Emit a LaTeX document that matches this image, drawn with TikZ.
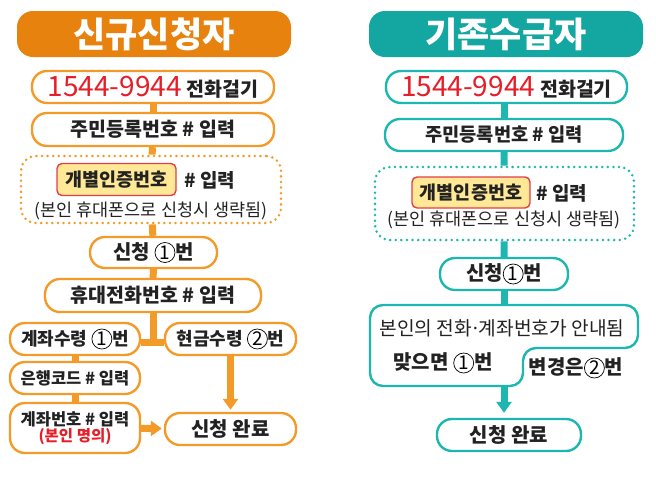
\documentclass[tikz,border=0pt]{standalone}
\usepackage{fontspec}
\setmainfont{Noto Sans CJK KR}
\usetikzlibrary{arrows.meta}
\definecolor{ortitle}{RGB}{232,130,14}
\definecolor{orline}{RGB}{243,155,40}
\definecolor{tltitle}{RGB}{20,166,160}
\definecolor{tlline}{RGB}{30,182,176}
\definecolor{hlfill}{RGB}{255,232,150}
\definecolor{hlred}{RGB}{230,60,70}
\definecolor{numred}{RGB}{230,30,40}
\definecolor{ink}{RGB}{34,34,34}
\newcommand\myfs[1]{\fontsize{#1}{#1}\selectfont}
\newcommand\cnum[1]{\tikz[baseline=(cn.base)]\node[draw=black,line width=0.7pt,circle,inner sep=0pt,minimum size=20pt,fill=white,text=black,font=\mdseries\myfs{19}](cn){#1};}
\tikzset{
  titlebox/.style={fill=#1,draw=none,rounded corners=16pt,minimum height=46pt,text=white,font=\bfseries\myfs{35},inner sep=0pt},
  pill/.style={draw=#1,line width=2.4pt,fill=white,rounded corners=15pt,inner sep=0pt,text=ink,font=\bfseries\myfs{19.5}},
  dotbox/.style={draw=#1,line width=2.8pt,dash pattern=on 0pt off 5.6pt,line cap=round,rounded corners=15pt,inner sep=0pt},
  hlbox/.style={draw=hlred,line width=1.4pt,fill=hlfill,rounded corners=5pt,inner sep=0pt,text=ink,font=\bfseries\myfs{18.5}},
  plain/.style={inner sep=0pt,text=ink,font=\bfseries\myfs{19}},
  note/.style={inner sep=0pt,text=ink,font=\mdseries\myfs{17.5}},
  bar/.style={draw=#1,line width=7pt},
  arr/.style={draw=#1,line width=7pt,-{Triangle[width=15pt,length=11pt]}}
}
\begin{document}
\begin{tikzpicture}[x=1pt,y=-1pt]
\useasboundingbox (0,0) rectangle (656,493);
% ---------------- left column ----------------
\node[titlebox=ortitle,minimum width=274pt] (t1) at (154,34) {신규신청자};
\node[pill=orline,minimum width=242pt,minimum height=32pt] (a1) at (153,87) {{\color{numred}\mdseries\myfs{28}1544-9944}\hspace{5pt}전화걸기};
\node[pill=orline,minimum width=242pt,minimum height=33pt] (a2) at (153,129.5) {주민등록번호 \# 입력};
\node[dotbox=orline,minimum width=260pt,minimum height=67pt] (a3) at (151,189.5) {};
\node[hlbox,minimum width=119pt,minimum height=32pt] (h1) at (116.5,179.5) {개별인증번호};
\node[plain] (h1t) at (210,180) {\# 입력};
\node[note] (n1) at (151,211) {(본인 휴대폰으로 신청시 생략됨)};
\node[pill=orline,minimum width=127pt,minimum height=31pt,font=\bfseries\myfs{20}] (a4) at (153.5,252.5) {신청 \cnum{1}번};
\node[pill=orline,minimum width=216pt,minimum height=33pt] (a5) at (153,295.5) {휴대전화번호 \# 입력};
\node[pill=orline,minimum width=130pt,minimum height=32pt,font=\bfseries\myfs{18}] (a6) at (75,339) {계좌수령 \cnum{1}번};
\node[pill=orline,minimum width=131pt,minimum height=32pt,font=\bfseries\myfs{18}] (a7) at (230.5,339) {현금수령 \cnum{2}번};
\node[pill=orline,minimum width=130pt,minimum height=32pt,font=\bfseries\myfs{16.5}] (a8) at (75,378) {은행코드 \# 입력};
\node[pill=orline,minimum width=130pt,minimum height=50pt,align=center,font=\bfseries\myfs{16.5}] (a9) at (75,428) {계좌번호 \# 입력\\[-1pt]{\color{numred}\myfs{15.5}(본인 명의)}};
\node[pill=orline,minimum width=131pt,minimum height=32pt,font=\bfseries\myfs{20}] (a10) at (230.5,429) {신청 완료};
\coordinate (br) at (153,342);
\draw[bar=orline] (a1) -- (a2);
\draw[bar=orline] (a2) -- (a3);
\draw[bar=orline] (a3) -- (a4);
\draw[bar=orline] (a4) -- (a5);
\draw[bar=orline] (a5) -- (br);
\draw[bar=orline] (a6.east |- br) -- (a7.west |- br);
\draw[bar=orline] (a6) -- (a8);
\draw[bar=orline] (a8) -- (a9);
\draw[arr=orline,shorten >=2pt] (a7) -- (a10);
\draw[arr=orline,shorten >=2pt] (a9) -- (a10);
% ---------------- right column ----------------
\node[titlebox=tltitle,minimum width=274pt] (t2) at (506,34) {기존수급자};
\node[pill=tlline,minimum width=241pt,minimum height=32pt] (b1) at (506.5,87) {{\color{numred}\mdseries\myfs{28}1544-9944}\hspace{5pt}전화걸기};
\node[pill=tlline,minimum width=238pt,minimum height=32pt,font=\bfseries\myfs{18.7}] (b2) at (504,135) {주민등록번호 \# 입력};
\node[dotbox=tlline,minimum width=259pt,minimum height=73pt] (b3) at (504.5,203.5) {};
\node[hlbox,minimum width=118pt,minimum height=31pt] (h2) at (471,192.5) {개별인증번호};
\node[plain] (h2t) at (562,193) {\# 입력};
\node[note] (n2) at (504,220) {(본인 휴대폰으로 신청시 생략됨)};
\node[pill=tlline,minimum width=128pt,minimum height=32pt,font=\bfseries\myfs{20}] (b4) at (504,274) {신청\cnum{1}번};
\draw[draw=tlline,line width=2.4pt,fill=white,rounded corners=13pt] (370,305) -- (638,305) -- (638,348) -- (523,348) -- (523,386) -- (370,386) -- cycle;
\coordinate (bigtop) at (504,305);
\coordinate (bigbot) at (504,386);
\node[note,font=\mdseries\myfs{19.2}] (g1) at (502,328) {본인의 전화\kern-0.1em·\kern-0.1em계좌번호가 안내됨};
\node[plain,font=\bfseries\myfs{20}] (g2) at (443,363) {맞으면 \cnum{1}번};
\node[plain,font=\bfseries\myfs{20}] (g3) at (576,368) {변경은\cnum{2}번};
\node[pill=tlline,minimum width=144pt,minimum height=32pt,font=\bfseries\myfs{20}] (b6) at (509,435) {신청 완료};
\draw[bar=tlline] (b1.south -| b2) -- (b2);
\draw[bar=tlline] (b2) -- (b3);
\draw[bar=tlline] (b3) -- (b4);
\draw[bar=tlline] (b4) -- (bigtop);
\draw[arr=tlline,shorten >=5pt] (bigbot) -- (b6.north -| bigbot);
\end{tikzpicture}
\end{document}
